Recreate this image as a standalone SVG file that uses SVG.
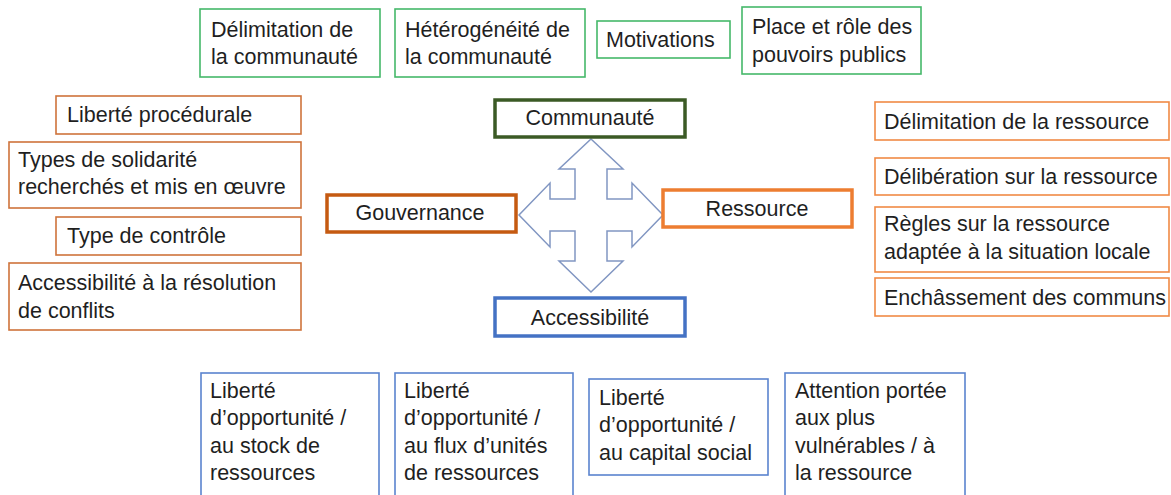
<svg xmlns="http://www.w3.org/2000/svg" width="1171" height="495" viewBox="0 0 1171 495">
<style>
text{font-family:"Liberation Sans",Arial,sans-serif;font-size:21.5px;fill:#1f1f1f}
.c{text-anchor:middle}
rect{fill:#fff}
.g{stroke:#45b86a;stroke-width:1.6}
.ol{stroke:#cf733b;stroke-width:1.6}
.or{stroke:#f08a45;stroke-width:1.6}
.b{stroke:#5b84cf;stroke-width:1.6}
.main{stroke-width:3.5}
</style>
<rect width="1171" height="495" fill="#fff"/>
<g id="connectors">
<path d="M591,139 L623,169 L607,169 L607,199 L632,199 L632,183 L663,215 L632,247 L632,231 L607,231 L607,261 L623,261 L591,292 L559,261 L575,261 L575,231 L550,231 L550,247 L519,215 L550,183 L550,199 L575,199 L575,169 L559,169 Z" fill="#fff" stroke="#8196c2" stroke-width="1.5" stroke-linejoin="miter"/>
</g>
<g id="communaute">
<rect class="main" x="495" y="100" width="190" height="37" stroke="#3b5a25"/>
<text class="c" x="590" y="125">Communauté</text>
</g>
<g id="gouvernance">
<rect class="main" x="327" y="195" width="189" height="37" stroke="#c55a11"/>
<text class="c" x="420" y="220">Gouvernance</text>
</g>
<g id="ressource">
<rect class="main" x="663" y="190" width="189" height="37" stroke="#ed7d31"/>
<text class="c" x="757" y="216">Ressource</text>
</g>
<g id="accessibilite">
<rect class="main" x="495" y="298" width="190" height="38" stroke="#4472c4"/>
<text class="c" x="590" y="325">Accessibilité</text>
</g>
<g id="t1"><rect class="g" x="200" y="9" width="180" height="68"/><text x="211" y="37">Délimitation de</text><text x="211" y="64">la communauté</text></g>
<g id="t2"><rect class="g" x="395" y="9" width="190" height="68"/><text x="405" y="37">Hétérogénéité de</text><text x="405" y="64">la communauté</text></g>
<g id="t3"><rect class="g" x="597" y="21" width="133" height="37"/><text x="606" y="47">Motivations</text></g>
<g id="t4"><rect class="g" x="742" y="7" width="179" height="67"/><text x="752" y="34">Place et rôle des</text><text x="752" y="62">pouvoirs publics</text></g>
<g id="l1"><rect class="ol" x="56" y="96" width="245" height="38"/><text x="67" y="122">Liberté procédurale</text></g>
<g id="l2"><rect class="ol" x="9" y="142" width="292" height="66"/><text x="18" y="167">Types de solidarité</text><text x="18" y="194">recherchés et mis en œuvre</text></g>
<g id="l3"><rect class="ol" x="56" y="217" width="245" height="38"/><text x="67" y="243">Type de contrôle</text></g>
<g id="l4"><rect class="ol" x="9" y="263" width="292" height="67"/><text x="18" y="290">Accessibilité à la résolution</text><text x="18" y="318">de conflits</text></g>
<g id="r1"><rect class="or" x="875" y="102" width="294" height="38"/><text x="884" y="129">Délimitation de la ressource</text></g>
<g id="r2"><rect class="or" x="875" y="158" width="294" height="37"/><text x="884" y="184">Délibération sur la ressource</text></g>
<g id="r3"><rect class="or" x="875" y="207" width="294" height="65"/><text x="884" y="231">Règles sur la ressource</text><text x="884" y="259">adaptée à  la situation locale</text></g>
<g id="r4"><rect class="or" x="875" y="278" width="294" height="38"/><text x="884" y="305">Enchâssement des communs</text></g>
<g id="b1"><rect class="b" x="201" y="373" width="178" height="140"/><text x="210" y="398">Liberté</text><text x="210" y="425">d’opportunité /</text><text x="210" y="453">au stock de</text><text x="210" y="480">ressources</text></g>
<g id="b2"><rect class="b" x="395" y="373" width="178" height="140"/><text x="404" y="398">Liberté</text><text x="404" y="425">d’opportunité /</text><text x="404" y="453">au flux d’unités</text><text x="404" y="480">de ressources</text></g>
<g id="b3"><rect class="b" x="589" y="379" width="179" height="96"/><text x="599" y="405">Liberté</text><text x="599" y="432">d’opportunité /</text><text x="599" y="460">au capital social</text></g>
<g id="b4"><rect class="b" x="785" y="373" width="180" height="140"/><text x="795" y="398">Attention portée</text><text x="795" y="425">aux plus</text><text x="795" y="453">vulnérables / à</text><text x="795" y="480">la ressource</text></g>
</svg>
